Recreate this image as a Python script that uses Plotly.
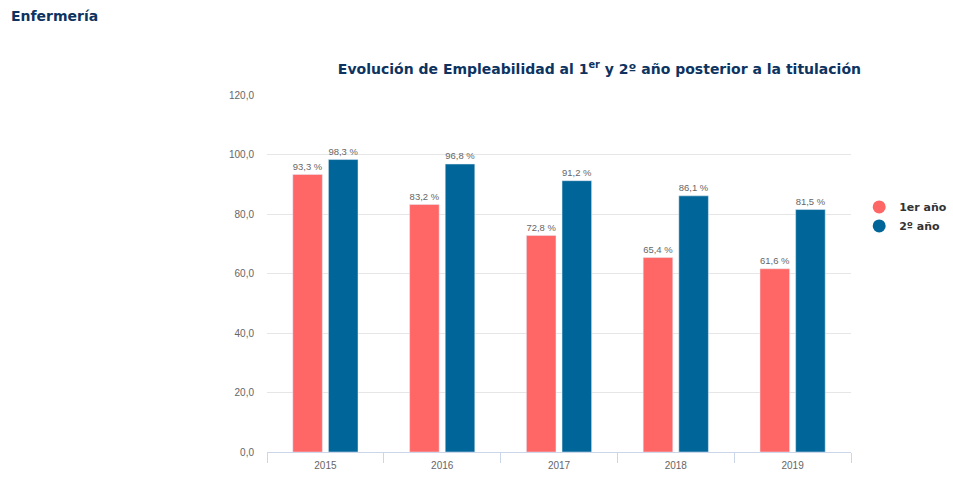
import plotly.graph_objects as go

years = ["2015", "2016", "2017", "2018", "2019"]
primer_anio = [93.3, 83.2, 72.8, 65.4, 61.6]
segundo_anio = [98.3, 96.8, 91.2, 86.1, 81.5]
y_ticks = [0, 20, 40, 60, 80, 100, 120]

RED = "#ff6666"
BLUE = "#006699"

fig = go.Figure()
for name, vals, col in [("1er año", primer_anio, RED), ("2º año", segundo_anio, BLUE)]:
    fig.add_trace(go.Bar(
        x=years, y=vals, name=name, marker_color=col, showlegend=False,
        texttemplate="%{y:.1f} %", textposition="outside", cliponaxis=False,
        textfont=dict(family="Liberation Sans, Arial", size=10, color="#666666"),
    ))
    fig.add_trace(go.Scatter(
        x=[None], y=[None], mode="markers", name=name,
        marker=dict(symbol="circle", size=13, color=col),
    ))

fig.update_layout(
    width=953, height=488,
    margin=dict(l=267, r=102, t=95, b=36, autoexpand=False),
    paper_bgcolor="white", plot_bgcolor="white",
    separators=",.",
    bargap=0.39, bargroupgap=0.17, barmode="group",
    title=dict(
        text="Evolución de Empleabilidad al 1<sup>er</sup> y 2º año posterior a la titulación",
        x=0.629, xanchor="center", xref="container",
        y=1 - 69 / 488, yanchor="middle", yref="container",
        font=dict(family="DejaVu Sans, Verdana", size=14, color="#0d3360", weight="bold"),
    ),
    legend=dict(
        x=1.014, xanchor="left", y=0.66, yanchor="middle",
        font=dict(family="DejaVu Sans, Verdana", size=11, color="#333333", weight="bold"),
        itemwidth=30, tracegroupgap=2,
    ),
    annotations=[dict(
        text="<b>Enfermería</b>", xref="paper", yref="paper",
        x=-258 / 584, xanchor="left", y=(452 - 16) / 357, yanchor="middle",
        showarrow=False,
        font=dict(family="DejaVu Sans, Verdana", size=14, color="#0d3360"),
    )],
)
fig.update_yaxes(
    range=[0, 120], tickvals=y_ticks, tickformat=".1f",
    showgrid=True, gridcolor="#e6e6e6", zeroline=False,
    tickfont=dict(family="Liberation Sans, Arial", size=10, color="#666666"),
    ticks="", ticklabelstandoff=12,
)
fig.update_xaxes(
    type="category", tickson="boundaries", ticks="outside", ticklen=10,
    tickcolor="#ccd6eb", showline=True, linecolor="#ccd6eb", linewidth=1,
    ticklabelstandoff=4,
    tickfont=dict(family="Liberation Sans, Arial", size=10, color="#666666"),
)

fig.write_html("out.html")
